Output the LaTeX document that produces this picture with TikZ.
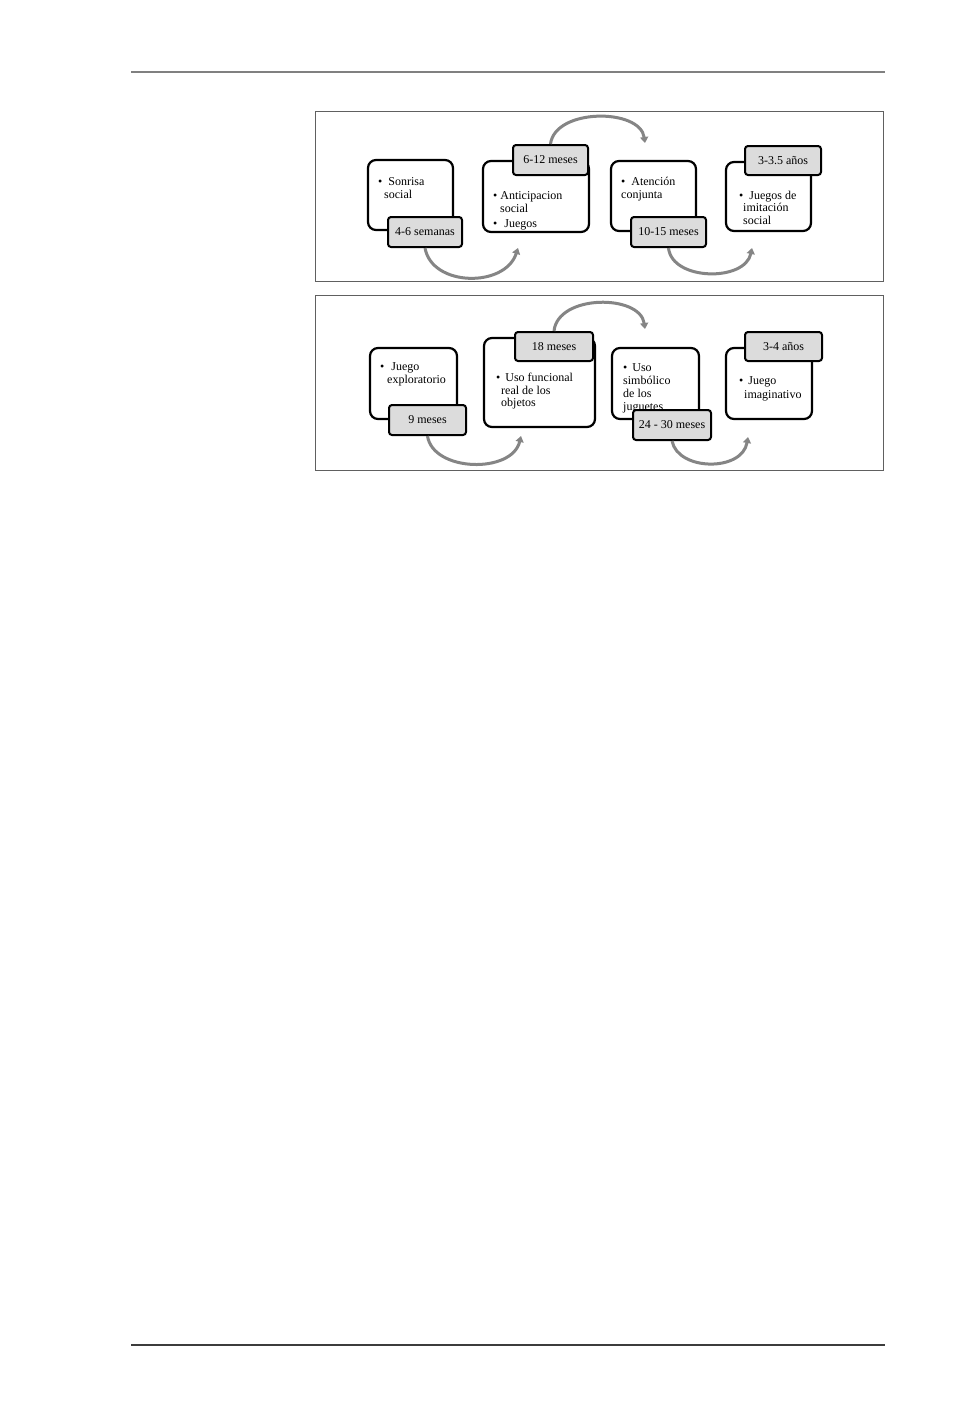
\documentclass[tikz,border=0pt]{standalone}
\usepackage{fontspec}
\setmainfont{Liberation Serif}
\usetikzlibrary{arrows.meta}
\definecolor{arcgray}{HTML}{858585}
\definecolor{labfill}{HTML}{DCDCDC}
\definecolor{panelgray}{HTML}{606060}
\begin{document}
\begin{tikzpicture}[x=1pt,y=-1pt,
  every node/.style={font=\fontsize{12}{13}\selectfont},
  mainbox/.style={draw=black,line width=2.2pt,rounded corners=8pt,fill=white,inner sep=0pt},
  labbox/.style={draw=black,line width=2pt,rounded corners=3pt,fill=labfill,inner sep=0pt,align=center},
  txt/.style={anchor=base west,inner sep=0pt},
  panel/.style={draw=panelgray,line width=1pt},
  arcline/.style={draw=arcgray,line width=3pt,-{Triangle[length=6pt,width=8pt]}},
  rule/.style={line width=1.5pt}
]
\useasboundingbox (0,0) rectangle (969,1414);
\fill[white] (0,0) rectangle (969,1414);

% page rules
\coordinate (h1) at (131,72);
\coordinate (h2) at (885,72);
\draw[rule,draw={rgb,255:red,128;green,128;blue,128}] (h1) -- (h2);
\coordinate (f1) at (131,1345);
\coordinate (f2) at (885,1345);
\draw[rule,draw={rgb,255:red,60;green,60;blue,60}] (f1) -- (f2);

% panels
\node[panel,minimum width=568pt,minimum height=170pt,inner sep=0pt] (p1) at (599.5,196.5) {};
\node[panel,minimum width=568pt,minimum height=175pt,inner sep=0pt] (p2) at (599.5,383) {};

% ---------- panel 1 ----------
\node[mainbox,minimum width=85pt,minimum height=70pt] (b1) at (410.5,195) {};
\node[txt] (t1a) at (378,185) {\textbullet\hspace{6pt}Sonrisa};
\node[txt] (t1b) at (384,198) {social};
\node[labbox,minimum width=74pt,minimum height=30pt] (l1) at (425,232) {4-6 semanas};

\node[mainbox,minimum width=106pt,minimum height=71pt] (b2) at (536,196.5) {};
\node[txt] (t2a) at (493,199.5) {\textbullet\hspace{3pt}Anticipacion};
\node[txt] (t2b) at (500,212.5) {social};
\node[txt] (t2c) at (493,227) {\textbullet\hspace{7pt}Juegos};
\node[labbox,minimum width=75pt,minimum height=30pt] (l2) at (550.5,160) {6-12 meses};

\node[mainbox,minimum width=85pt,minimum height=70pt] (b3) at (653.5,196) {};
\node[txt] (t3a) at (621,185) {\textbullet\hspace{6pt}Atención};
\node[txt] (t3b) at (621,198) {conjunta};
\node[labbox,minimum width=75pt,minimum height=30pt] (l3) at (668.5,232) {10-15 meses};

\node[mainbox,minimum width=85pt,minimum height=69pt] (b4) at (768.5,196.5) {};
\node[txt] (t4a) at (739,199) {\textbullet\hspace{6pt}Juegos de};
\node[txt] (t4b) at (743,211.5) {imitación};
\node[txt] (t4c) at (743,224) {social};
\node[labbox,minimum width=76pt,minimum height=29pt] (l4) at (783,160.5) {3-3.5 años};

\coordinate (e1) at (518,248);
\coordinate (e2) at (645,143);
\coordinate (e3) at (752,248);
\draw[arcline] (l1.south) .. controls (432,287) and (505,288) .. (e1);
\draw[arcline] (l2.north) .. controls (555,108) and (640,108) .. (e2);
\draw[arcline] (l3.south) .. controls (672,281) and (745,282) .. (e3);

% ---------- panel 2 ----------
\node[mainbox,minimum width=87pt,minimum height=71pt] (b5) at (413.5,383.5) {};
\node[txt] (t5a) at (380,370) {\textbullet\hspace{7pt}Juego};
\node[txt] (t5b) at (387,383) {exploratorio};
\node[labbox,minimum width=77pt,minimum height=30pt] (l5) at (427.5,420) {9 meses};

\node[mainbox,minimum width=111pt,minimum height=89pt] (b6) at (539.5,382.5) {};
\node[txt] (t6a) at (496,381.5) {\textbullet\hspace{5pt}Uso funcional};
\node[txt] (t6b) at (501,394) {real de los};
\node[txt] (t6c) at (501,406.5) {objetos};
\node[labbox,minimum width=78pt,minimum height=29pt] (l6) at (554,346.5) {18 meses};

\node[mainbox,minimum width=87pt,minimum height=71pt] (b7) at (655.5,383.5) {};
\node[txt] (t7a) at (623,371) {\textbullet\hspace{5pt}Uso};
\node[txt] (t7b) at (623,384) {simbólico};
\node[txt] (t7c) at (623,397) {de los};
\node[txt] (t7d) at (623,410) {juguetes};
\node[labbox,minimum width=78pt,minimum height=30pt] (l7) at (672,425) {24 - 30 meses};

\node[mainbox,minimum width=86pt,minimum height=71pt] (b8) at (769,383.5) {};
\node[txt] (t8a) at (739,384) {\textbullet\hspace{5pt}Juego};
\node[txt] (t8b) at (744,398.5) {imaginativo};
\node[labbox,minimum width=77pt,minimum height=29pt] (l8) at (783.5,346.5) {3-4 años};

\coordinate (e4) at (521,436);
\coordinate (e5) at (645,329);
\coordinate (e6) at (748,437);
\draw[arcline] (l5.south) .. controls (433,472) and (512,474) .. (e4);
\draw[arcline] (l6.north) .. controls (558,294) and (640,294) .. (e5);
\draw[arcline] (l7.south) .. controls (678,471) and (742,472) .. (e6);
\end{tikzpicture}
\end{document}
